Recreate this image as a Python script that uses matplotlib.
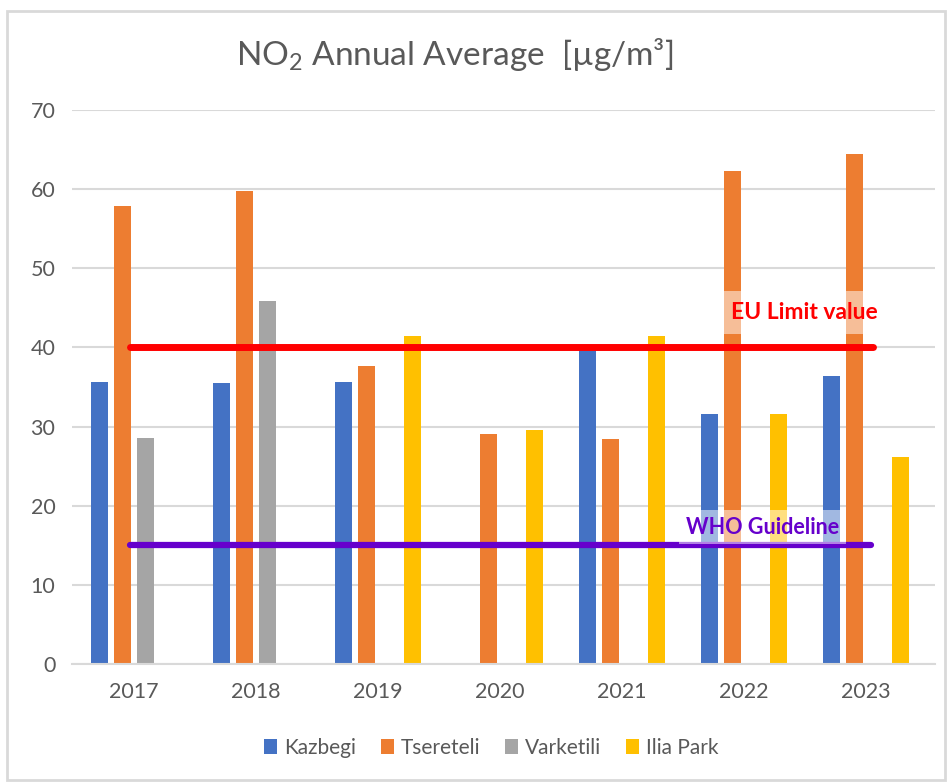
import numpy as np
import matplotlib
matplotlib.use("Agg")
import matplotlib.pyplot as plt
from matplotlib.patches import Rectangle

plt.rcParams['font.family'] = ['Lato', 'DejaVu Sans']
plt.rcParams['mathtext.fontset'] = 'custom'
plt.rcParams['mathtext.rm'] = 'Lato'
plt.rcParams['mathtext.it'] = 'Lato:italic'
plt.rcParams['mathtext.bf'] = 'Lato:bold'

# data
years = ['2017', '2018', '2019', '2020', '2021', '2022', '2023']
kazbegi = [35.6, 35.5, 35.6, np.nan, 39.8, 31.6, 36.4]
tsereteli = [57.8, 59.7, 37.7, 29.1, 28.4, 62.3, 64.4]
varketili = [28.6, 45.9, np.nan, np.nan, np.nan, np.nan, np.nan]
ilia_park = [np.nan, np.nan, 41.5, 29.5, 41.5, 31.6, 26.2]
series_names = ['Kazbegi', 'Tsereteli', 'Varketili', 'Ilia Park']
eu_limit = 40
who_guideline = 15

colors = ['#4472C4', '#ED7D31', '#A5A5A5', '#FFC000']
text_col = '#595959'
grid_col = '#D9D9D9'

fig = plt.figure(figsize=(9.49, 7.83), dpi=100)
ax = fig.add_axes([0.0759, 0.152, 0.9091, 0.7076])

x = np.arange(len(years))
offsets = [-0.283, -0.094, 0.094, 0.283]
width = 0.139
for vals, off, c, name in zip([kazbegi, tsereteli, varketili, ilia_park], offsets, colors, series_names):
    ax.bar(x + off, vals, width, color=c, label=name, zorder=2)

# reference lines
ax.plot([-0.03, 6.06], [eu_limit, eu_limit], color='#FF0000', lw=5, solid_capstyle='round', zorder=3)
ax.plot([-0.03, 6.04], [who_guideline, who_guideline], color='#6600CC', lw=4.5, solid_capstyle='round', zorder=3)

ax.text(5.5, 44.4, 'EU Limit value', color='#FF0000', fontsize=16.5, fontweight='bold',
        ha='center', va='center', zorder=4,
        bbox=dict(facecolor='white', alpha=0.5, edgecolor='none', pad=8))
ax.text(5.15, 17.3, 'WHO Guideline', color='#6600CC', fontsize=15.5, fontweight='bold',
        ha='center', va='center', zorder=4,
        bbox=dict(facecolor='white', alpha=0.5, edgecolor='none', pad=5))

ax.set_xlim(-0.508, 6.566)
ax.set_ylim(0, 70)
ax.set_yticks(range(0, 71, 10))
ax.set_xticks(x)
ax.set_xticklabels(years)
ax.yaxis.grid(True, color=grid_col, lw=1.5, zorder=0)
ax.set_axisbelow(True)
for s in ['top', 'right', 'left']:
    ax.spines[s].set_visible(False)
ax.spines['bottom'].set_color(grid_col)
ax.spines['bottom'].set_linewidth(1.5)
ax.tick_params(axis='both', length=0, labelsize=15.5, colors=text_col)
ax.tick_params(axis='x', pad=13)
ax.tick_params(axis='y', pad=12)

fig.text(0.479, 0.93, r'NO$_\mathrm{2}$ Annual Average  [µg/m³]', ha='center', va='center',
         fontsize=24, color=text_col)

fig.legend(loc='center', bbox_to_anchor=(0.518, 0.045), ncol=4, frameon=False,
           fontsize=15, handlelength=0.6, handleheight=0.7, handletextpad=0.35,
           columnspacing=1.2, labelcolor=text_col)

# outer chart border
fig.patches.append(Rectangle((7 / 949, 3 / 783), 938 / 949, 769 / 783, transform=fig.transFigure,
                             fill=False, edgecolor=grid_col, lw=2))

fig.savefig('out.png', dpi=100)
